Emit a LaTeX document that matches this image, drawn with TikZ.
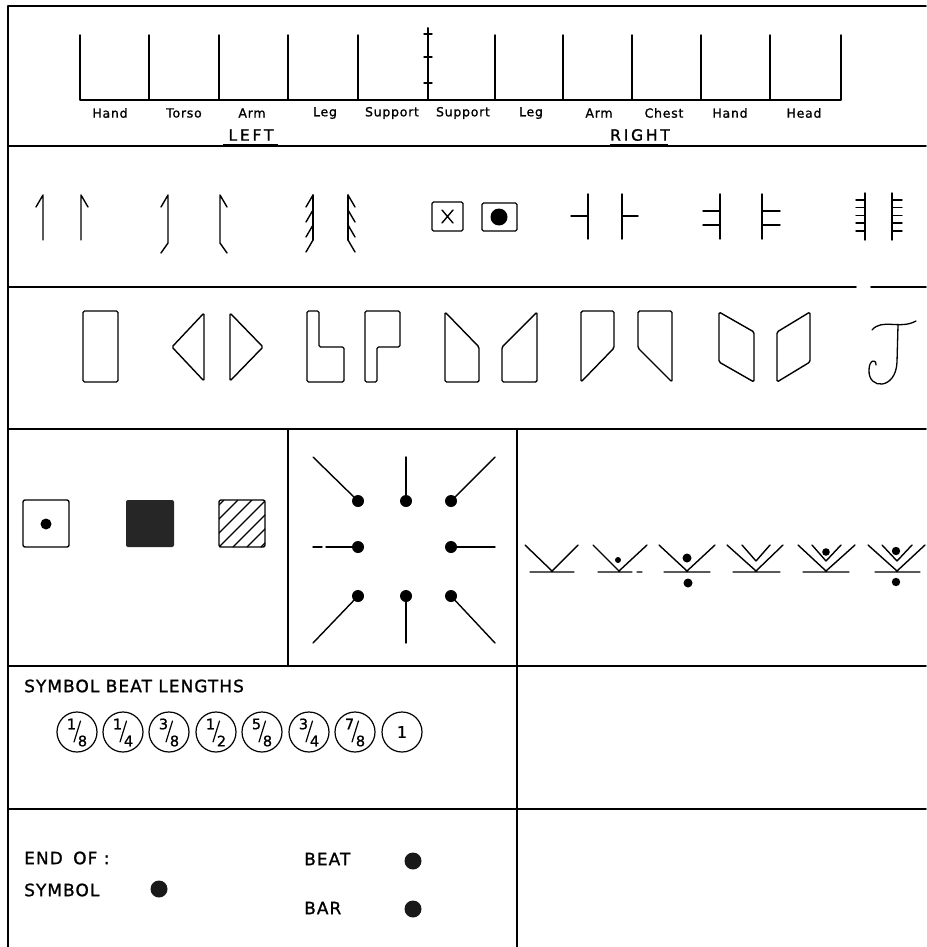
\documentclass[tikz,border=0pt]{standalone}
\usepackage{fontspec}
\setmainfont{DejaVu Sans}
\newfontfamily\lab[LetterSpace=6,FakeBold=1.2]{DejaVu Sans}
\newfontfamily\labwide[LetterSpace=18,FakeBold=1.2]{DejaVu Sans}
\newfontfamily\numf[FakeBold=1]{DejaVu Sans}
\begin{document}
\begin{tikzpicture}[x=1pt,y=-1pt, line join=round, line cap=round,
  frame/.style={line width=1.8pt},
  sym/.style={line width=1.4pt},
  lbl/.style={inner sep=0pt, font=\lab\fontsize{12.5}{14}\selectfont},
  side/.style={inner sep=0pt, font=\labwide\fontsize{15.5}{17}\selectfont},
  big/.style={inner sep=0pt, anchor=west, font=\lab\fontsize{17}{19}\selectfont},
  num/.style={inner sep=0pt, font=\numf\fontsize{14.5}{16}\selectfont},
  shp/.style={sym, rounded corners=1.5pt}
]
\useasboundingbox (0,0) rectangle (926,947);

% ---------- frame ----------
\draw[frame] (926,6) -- (8,6) -- (8,947);
\draw[frame] (8,146) -- (926,146);
\draw[frame] (8,287) -- (856,287) (871,287) -- (926,287);
\draw[frame] (8,429) -- (926,429);
\draw[frame] (288,429) -- (288,666);
\draw[frame] (517,429) -- (517,947);
\draw[frame] (8,666) -- (926,666);
\draw[frame] (8,809) -- (926,809);

% ---------- staff ----------
\draw[sym] (80,35) -- (80,100) -- (841,100) -- (841,35);
\foreach \x in {149,219,288,358,495,563,632,701,770}
  \draw[sym] (\x,35) -- (\x,100);
\draw[line width=2pt] (428,28) -- (428,100);
\foreach \y in {34,57,83} \draw[sym] (424,\y) -- (432,\y);

\node[lbl] (t1) at (110,113) {Hand};
\node[lbl] (t2) at (184,113) {Torso};
\node[lbl] (t3) at (252,113) {Arm};
\node[lbl] (t4) at (325,113) {Leg};
\node[lbl] (t5) at (392,113) {Support};
\node[lbl] (t6) at (463,113) {Support};
\node[lbl] (t7) at (531,113) {Leg};
\node[lbl] (t8) at (599,113) {Arm};
\node[lbl] (t9) at (664,113) {Chest};
\node[lbl] (t10) at (730,113) {Hand};
\node[lbl] (t11) at (804,113) {Head};
\node[side] (left) at (251,135) {LEFT};
\node[side] (right) at (640,135) {RIGHT};
\draw[line width=3pt, line cap=butt] (223,145) -- (278,145);
\draw[line width=3pt, line cap=butt] (610,145) -- (668,145);

% ---------- row 2 ----------
\draw[sym] (36,207) -- (43,195) -- (43,240);
\draw[sym] (88,207) -- (81,195) -- (81,240);
\draw[sym] (161,207) -- (168,195) -- (168,243) -- (161,253);
\draw[sym] (227,207) -- (220,195) -- (220,243) -- (227,253);
\draw[sym] (313,195) -- (313,240);
\foreach \y in {195,210,225,240} \draw[sym] (313,\y) -- (306,\y+12);
\draw[sym] (348,195) -- (348,240);
\foreach \y in {195,210,225,240} \draw[sym] (348,\y) -- (355,\y+12);

\draw[shp] (432,202) rectangle (463,231);
\draw[sym] (442,210) -- (453,223) (453,210) -- (442,223);
\draw[shp] (482,203) rectangle (517,231);
\fill (499,217) circle (8.5);

\draw[sym] (588,194) -- (588,239) (571,216) -- (588,216);
\draw[sym] (622,194) -- (622,239) (622,216) -- (638,216);
\draw[sym] (720,194) -- (720,239) (703,211) -- (720,211) (703,225) -- (720,225);
\draw[sym] (762,194) -- (762,239) (762,211) -- (780,211) (762,225) -- (780,225);
\draw[sym] (865,193) -- (865,240);
\foreach \y in {200,207.5,215.5,223,231} \draw[sym] (856,\y) -- (865,\y);
\draw[sym] (892,193) -- (892,240);
\foreach \y in {200,207.5,215.5,223,231} \draw[sym] (892,\y) -- (902,\y);

% ---------- row 3 ----------
\draw[shp] (83,311) rectangle (118,382);
\draw[shp] (172,347) -- (204,313) -- (204,381) -- cycle;
\draw[shp] (230,313) -- (263,347) -- (230,381) -- cycle;
\draw[shp] (307,311) -- (319,311) -- (319,347) -- (344,347) -- (344,382) -- (307,382) -- cycle;
\draw[shp] (365,311) -- (400,311) -- (400,347) -- (377,347) -- (377,382) -- (365,382) -- cycle;
\draw[shp] (445,312) -- (479,347) -- (479,382) -- (445,382) -- cycle;
\draw[shp] (502,347) -- (537,312) -- (537,382) -- (502,382) -- cycle;
\draw[shp] (581,311) -- (614,311) -- (614,348) -- (581,382) -- cycle;
\draw[shp] (638,311) -- (672,311) -- (672,382) -- (638,348) -- cycle;
\draw[shp] (719,312) -- (754,332) -- (754,382) -- (719,362) -- cycle;
\draw[shp] (777,332) -- (810,312) -- (810,362) -- (777,382) -- cycle;
\draw[line width=1.3pt] (872,330) .. controls (882,318) and (900,330) .. (916,321);
\draw[line width=1.3pt] (898,325) -- (897,362) .. controls (896,390) and (868,390) .. (869,370)
   .. controls (869,360) and (876,358) .. (876,365);

% ---------- row 4 left ----------
\draw[sym, rounded corners=2pt] (23,500) rectangle (69,547);
\fill (46,524) circle (5.5);
\fill[black!85, rounded corners=2pt] (126,500) rectangle (174,547);
\begin{scope}
  \clip (219,500) rectangle (265,547);
  \foreach \i in {-42,-28,...,42} \draw[line width=1.1pt] (219+\i,547) -- ++(47,-47);
\end{scope}
\draw[sym, rounded corners=2pt] (219,500) rectangle (265,547);

% ---------- row 4 middle ----------
\foreach \p in {(358,501),(406,501),(451,501),(358,547),(451,547),(358,596),(406,596),(451,596)}
  \fill \p circle (6);
\draw[sym] (358,501) -- (313,457);
\draw[sym] (406,501) -- (406,457);
\draw[sym] (451,501) -- (495,457);
\draw[sym] (358,547) -- (326,547) (322,547) -- (313,547);
\draw[sym] (451,547) -- (495,547);
\draw[sym] (358,596) -- (313,643);
\draw[sym] (406,596) -- (406,643);
\draw[sym] (451,596) -- (495,643);

% ---------- row 4 right ----------
\draw[sym] (525,545) -- (552,571) -- (578,545) (530,572) -- (574,572);
\draw[sym] (593,545) -- (619,571) -- (647,545) (598,572) -- (632,572) (637,572) -- (642,572);
\fill (618,560) circle (3);
\draw[sym] (659,545) -- (687,571) -- (715,545) (664,572) -- (710,572);
\fill (687,558) circle (4.5);
\fill (688,583) circle (4.5);
\draw[sym] (727,545) -- (756,571) -- (783,545) (742,545) -- (756,561) -- (770,545) (733,572) -- (780,572);
\draw[sym] (798,545) -- (826,571) -- (855,545) (812,545) -- (826,561) -- (841,545) (803,572) -- (849,572);
\fill (826,552) circle (3.8);
\draw[sym] (868,545) -- (897,571) -- (925,545) (882,545) -- (897,561) -- (912,545) (875,572) -- (920,572);
\fill (896,551) circle (4.2);
\fill (896,582) circle (4.2);

% ---------- row 5 ----------
\node[big] (sbl) at (24,686) {SYMBOL BEAT LENGTHS};
\foreach \cx/\n/\d [count=\k] in {77/1/8,123/1/4,169/3/8,216/1/2,262/5/8,309/3/4,355/7/8} {
  \draw[line width=1.2pt] (\cx,732) circle (20);
  \node[num] (n\k) at (\cx-5.5,724) {\n};
  \node[num] (d\k) at (\cx+5.5,741) {\d};
  \draw[line width=1.2pt] (\cx-3,742) -- (\cx+3.5,721);
}
\draw[line width=1.2pt] (402,732) circle (20);
\node[num, font=\numf\fontsize{16}{17}\selectfont] (one) at (402,732) {1};

% ---------- row 6 ----------
\node[big] (endof) at (24,858) {END\hspace{4pt} OF :};
\node[big] (symb) at (24,890) {SYMBOL};
\fill[black!90] (159,889) circle (8.5);
\node[big] (beat) at (304,859) {BEAT};
\fill[black!90] (413,861) circle (8.5);
\node[big] (bar) at (304,908) {BAR};
\fill[black!90] (413,909) circle (8.5);
\end{tikzpicture}
\end{document}
